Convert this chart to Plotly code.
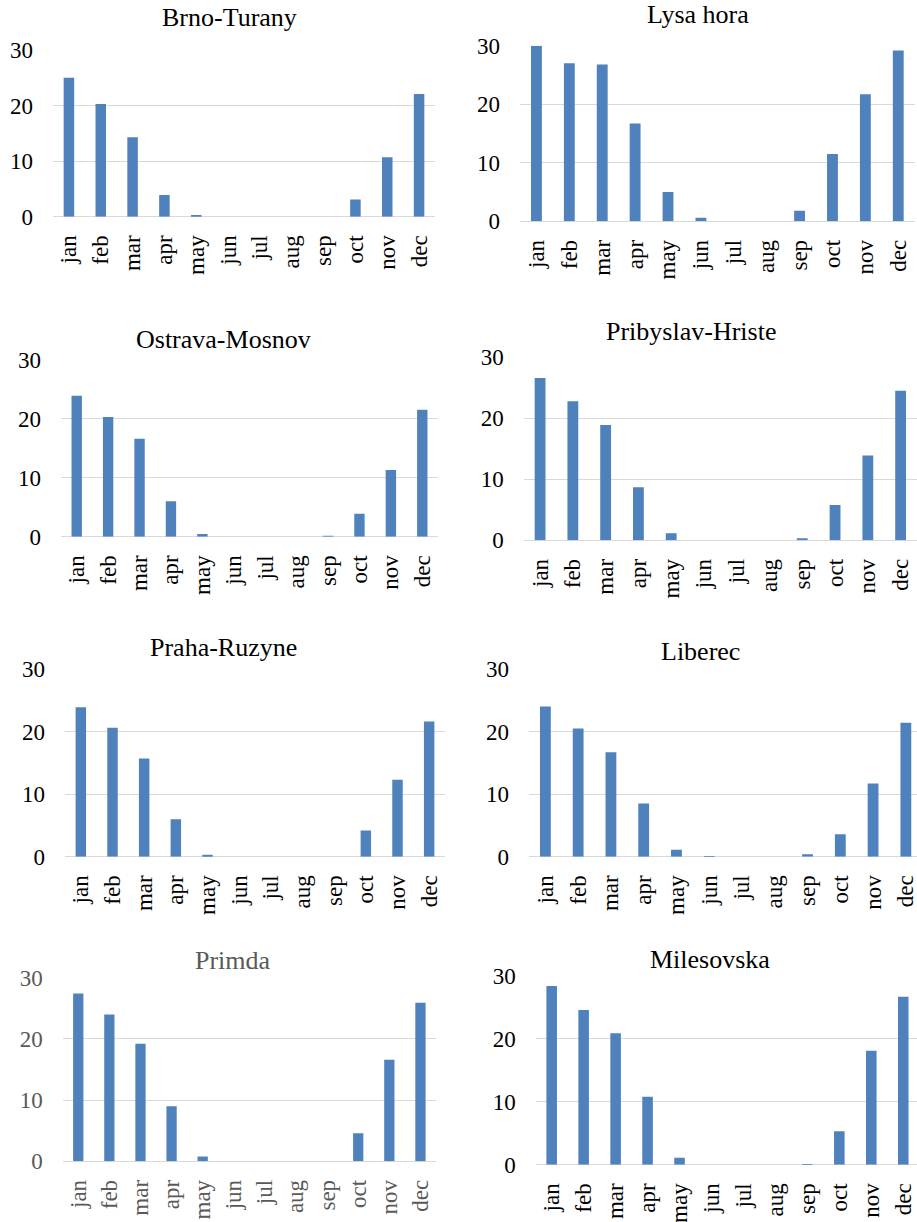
import plotly.graph_objects as go

W, H = 917, 1222

months = ["jan", "feb", "mar", "apr", "may", "jun", "jul", "aug", "sep", "oct", "nov", "dec"]

stations = ["Brno-Turany", "Lysa hora", "Ostrava-Mosnov", "Pribyslav-Hriste",
            "Praha-Ruzyne", "Liberec", "Primda", "Milesovska"]

brno_turany = [25.0, 20.3, 14.3, 3.9, 0.3, 0, 0, 0, 0, 3.1, 10.7, 22.1]
lysa_hora = [30.0, 27.0, 26.8, 16.7, 5.0, 0.6, 0, 0, 1.8, 11.5, 21.7, 29.2]
ostrava_mosnov = [23.9, 20.3, 16.6, 6.0, 0.45, 0, 0, 0, 0.05, 3.9, 11.3, 21.5]
pribyslav_hriste = [26.6, 22.8, 18.9, 8.7, 1.15, 0, 0, 0, 0.33, 5.8, 13.9, 24.5]
praha_ruzyne = [23.9, 20.6, 15.7, 6.0, 0.3, 0, 0, 0, 0, 4.2, 12.3, 21.6]
liberec = [24.0, 20.5, 16.7, 8.5, 1.1, 0.05, 0, 0, 0.4, 3.6, 11.7, 21.4]
primda = [27.4, 24.0, 19.2, 9.0, 0.8, 0, 0, 0, 0, 4.6, 16.6, 25.9]
milesovska = [28.4, 24.6, 20.9, 10.8, 1.1, 0, 0, 0, 0.05, 5.3, 18.1, 26.7]

series = [brno_turany, lysa_hora, ostrava_mosnov, pribyslav_hriste,
          praha_ruzyne, liberec, primda, milesovska]

y_ticks = [0, 10, 20, 30]

# panel geometry in pixels: (x0, x1, ytop, ybottom, title_x, title_y, x_range_max)
panels = [
    (53, 435, 50, 216.7, 229, 17.8, 11.5),
    (520, 914.7, 45.7, 221.3, 698, 14.7, 11.5),
    (61, 438, 359.7, 536.7, 223, 339.5, 11.5),
    (523.7, 917, 357.3, 540.3, 690.7, 331.3, 11.5),
    (65, 445, 669, 856.7, 223, 647, 11.5),
    (529, 917, 669, 856.7, 700.7, 651.2, 11.34),
    (62.7, 436, 977.7, 1161.3, 232.7, 960.3, 11.5),
    (535.7, 917, 976, 1164.7, 710.3, 959.7, 11.43),
]

FONT = "Liberation Serif, Times New Roman, serif"
BAR = "#4F81BD"

fig = go.Figure()
layout = {}
annotations = []
for i, (name, vals, geo) in enumerate(zip(stations, series, panels)):
    x0, x1, yt, yb, tx, ty, xmax = geo
    n = "" if i == 0 else str(i + 1)
    txtcol = "#595959" if name == "Primda" else "#000000"
    fig.add_trace(go.Bar(x=months, y=vals, xaxis="x" + n, yaxis="y" + n,
                         marker=dict(color=BAR, line=dict(width=0)),
                         showlegend=False))
    layout["xaxis" + n] = dict(
        domain=[x0 / W, x1 / W], anchor="y" + n, type="category",
        range=[-0.5, xmax], showgrid=False, zeroline=False, showline=False,
        tickangle=-90, ticks="", ticklabelstandoff=13, automargin=False,
        tickfont=dict(family=FONT, size=23, color=txtcol), fixedrange=True)
    layout["yaxis" + n] = dict(
        domain=[1 - yb / H, 1 - yt / H], anchor="x" + n,
        range=[0, 30], tickvals=y_ticks, showgrid=True, automargin=False,
        gridcolor="#D9D9D9", gridwidth=1.4, zeroline=True, zerolinecolor="#D9D9D9",
        zerolinewidth=1.4, showline=False, ticks="", ticklabelstandoff=19,
        tickfont=dict(family=FONT, size=23, color=txtcol), fixedrange=True)
    annotations.append(dict(text=name, x=tx / W, y=1 - ty / H, xref="paper", yref="paper",
                            xanchor="center", yanchor="middle", showarrow=False,
                            font=dict(family=FONT, size=26, color=txtcol)))

fig.update_layout(**layout)
fig.update_layout(width=W, height=H, margin=dict(l=0, r=0, t=0, b=0, pad=0, autoexpand=False),
                  paper_bgcolor="white", plot_bgcolor="white", autosize=False,
                  bargap=0.67, annotations=annotations, showlegend=False)

fig.write_html("out.html", config={"displayModeBar": False, "responsive": False},
               post_script="document.body.style.margin='0';document.body.style.overflow='hidden';")
